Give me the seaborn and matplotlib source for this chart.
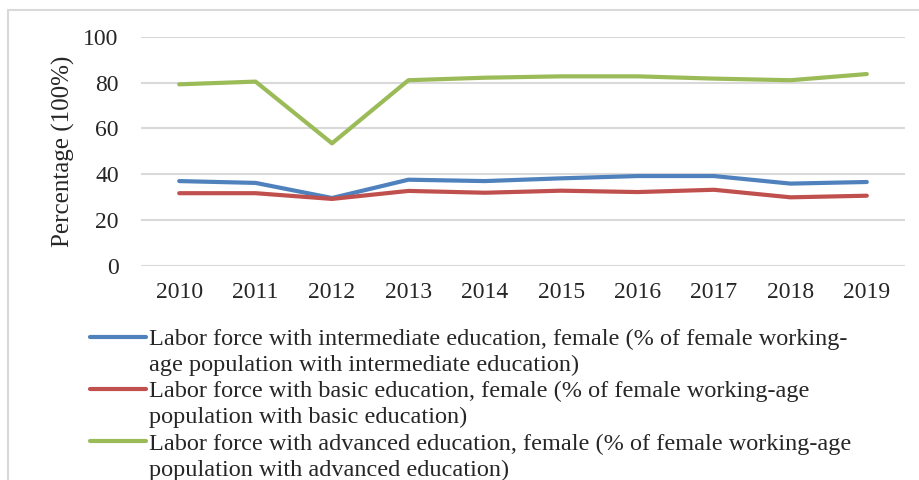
import pandas as pd
import numpy as np
import matplotlib
matplotlib.use('Agg')
import matplotlib.pyplot as plt
from matplotlib.patches import Rectangle
from matplotlib.lines import Line2D
import seaborn as sns

years = [2010, 2011, 2012, 2013, 2014, 2015, 2016, 2017, 2018, 2019]
intermediate = [37.0, 36.2, 29.6, 37.6, 37.0, 38.2, 39.2, 39.2, 35.9, 36.6]
basic = [31.7, 31.7, 29.2, 32.7, 31.9, 32.8, 32.2, 33.2, 29.9, 30.6]
advanced = [79.3, 80.5, 53.5, 81.1, 82.2, 82.8, 82.8, 81.8, 81.1, 83.8]

series_names = ['intermediate', 'basic', 'advanced']
legend_lines = [
    ('Labor force with intermediate education, female (% of female working-',
     'age population with intermediate education)'),
    ('Labor force with basic education, female (% of female working-age',
     'population with basic education)'),
    ('Labor force with advanced education, female (% of female working-age',
     'population with advanced education)'),
]
colors = ['#4F81BD', '#C0504D', '#9BBB59']

df = pd.DataFrame({
    'pos': list(range(len(years))) * 3,
    'value': intermediate + basic + advanced,
    'series': np.repeat(series_names, len(years)),
})

sns.set_style('white')
plt.rcParams['font.family'] = ['Liberation Serif', 'DejaVu Serif']

fig = plt.figure(figsize=(9.2, 4.8), dpi=100)
ax = fig.add_axes([141 / 920, 1 - 265.7 / 480, 764 / 920, 228.7 / 480])

sns.lineplot(data=df, x='pos', y='value', hue='series', palette=colors,
             hue_order=series_names, linewidth=3, ax=ax, legend=False)

ax.set_xlim(-0.5, len(years) - 0.5)
ax.set_ylim(0, 100)
ax.set_yticks([0, 20, 40, 60, 80, 100])
ax.set_xticks(range(len(years)))
ax.set_xticklabels([str(y) for y in years])
ax.yaxis.grid(True, color='#d9d9d9', linewidth=1.5)
ax.set_axisbelow(True)
for s in ax.spines.values():
    s.set_visible(False)
ax.tick_params(axis='y', length=0, pad=16, labelsize=17)
ax.tick_params(axis='x', length=0, pad=12, labelsize=17)
ax.set_xlabel('')
ax.set_ylabel('Percentage (100%)', fontsize=18, labelpad=6)

# legend: first line with handle, continuation line without
handles, labels = [], []
for c, (l1, l2) in zip(colors, legend_lines):
    handles.append(Line2D([], [], color=c, linewidth=3))
    labels.append(l1)
    handles.append(Line2D([], [], color='none'))
    labels.append(l2)
fig.legend(handles, labels, loc='upper left', bbox_to_anchor=(90 / 920, 1 - 328 / 480),
           frameon=False, fontsize=17.5, handlelength=2.3, handletextpad=0.12,
           labelspacing=0.17, borderpad=0, borderaxespad=0)

# outer chart frame
fig.add_artist(Rectangle((8 / 920, -0.1), 1.2, 1 - 10 / 480 + 0.1,
                         transform=fig.transFigure, fill=False,
                         edgecolor='#d9d9d9', linewidth=1.5))

fig.savefig('out.png', dpi=100)
